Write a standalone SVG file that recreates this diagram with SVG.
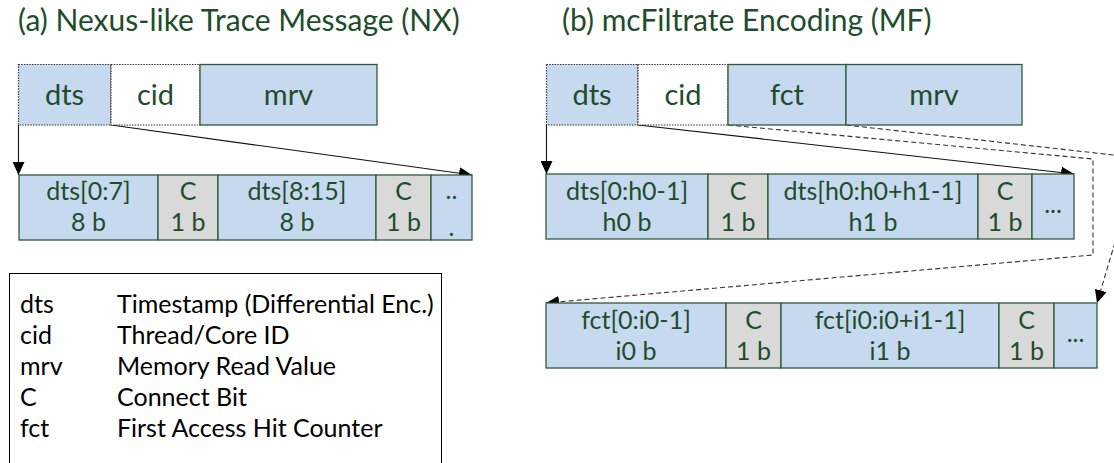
<svg xmlns="http://www.w3.org/2000/svg" width="1114" height="463" viewBox="0 0 1114 463">
<style>
  text { font-family: Lato, "Liberation Sans", sans-serif; fill: #1E4D2B; }
  .title { font-size: 30px; }
  .big { font-size: 29px; text-anchor: middle; }
  .lbl { font-size: 25px; text-anchor: middle; }
  .leg { font-size: 25px; fill: #000; }
  .b { fill: #C6D9EF; stroke: #2E5B3C; stroke-width: 1.3; }
  .g { fill: #D9D9D9; stroke: #2E5B3C; stroke-width: 1.3; }
  .dotb { fill: #C6D9EF; stroke: #333; stroke-width: 1.2; stroke-dasharray: 1.5 1.2; }
  .dotw { fill: #FFFFFF; stroke: #333; stroke-width: 1.2; stroke-dasharray: 1.5 1.2; }
  .conn { fill: none; stroke: #111; stroke-width: 1.1; }
  .dash { fill: none; stroke: #333; stroke-width: 1.1; stroke-dasharray: 5 3; }
</style>
<defs>
  <marker id="ah" markerUnits="userSpaceOnUse" markerWidth="14" markerHeight="12" refX="13" refY="6" orient="auto">
    <path d="M0,0 L13,6 L0,12 Z" fill="#000"/>
  </marker>
</defs>

<text class="title" x="18" y="31">(a) Nexus-like Trace Message (NX)</text>
<text class="title" x="562" y="31">(b) mcFiltrate Encoding (MF)</text>

<g id="connectors">
  <line class="conn" x1="18.5" y1="125" x2="18.5" y2="175" marker-end="url(#ah)"/>
  <line class="conn" x1="111" y1="125" x2="472" y2="175" marker-end="url(#ah)"/>
  <line class="conn" x1="546.5" y1="125" x2="546.5" y2="174" marker-end="url(#ah)"/>
  <line class="conn" x1="638" y1="125" x2="1074" y2="174" marker-end="url(#ah)"/>
  <polyline class="dash" points="728,125 1093,159 1093,255 546,303" marker-end="url(#ah)"/>
  <polyline class="dash" points="846,125 1140,158 1097,303" marker-end="url(#ah)"/>
</g>

<g id="nx-header">
  <rect class="dotb" x="18.5" y="64.5" width="92.5" height="60.5"/>
  <rect class="dotw" x="111" y="64.5" width="89" height="60.5"/>
  <rect class="b" x="200" y="64.5" width="177" height="60.5"/>
  <text class="big" x="64.5" y="105">dts</text>
  <text class="big" x="155.5" y="105">cid</text>
  <text class="big" x="288.5" y="105">mrv</text>
</g>

<g id="nx-dts">
  <rect class="b" x="19" y="175" width="139" height="65"/>
  <rect class="g" x="158" y="175" width="60" height="65"/>
  <rect class="b" x="218" y="175" width="158" height="65"/>
  <rect class="g" x="376" y="175" width="55" height="65"/>
  <rect class="b" x="431" y="175" width="41" height="65"/>
  <text class="lbl" x="88.5" y="200">dts[0:7]</text>
  <text class="lbl" x="88.5" y="231">8 b</text>
  <text class="lbl" x="188" y="200">C</text>
  <text class="lbl" x="188" y="231">1 b</text>
  <text class="lbl" x="297" y="200">dts[8:15]</text>
  <text class="lbl" x="297" y="231">8 b</text>
  <text class="lbl" x="403.5" y="200">C</text>
  <text class="lbl" x="403.5" y="231">1 b</text>
  <text class="lbl" x="451.5" y="199">..</text>
  <text class="lbl" x="451.5" y="236">.</text>
</g>

<g id="legend">
  <rect x="9.5" y="273.5" width="432" height="200" fill="#fff" stroke="#000" stroke-width="1"/>
  <text class="leg" x="20" y="313">dts</text>
  <text class="leg" x="117" y="313">Timestamp (Differential Enc.)</text>
  <text class="leg" x="20" y="344">cid</text>
  <text class="leg" x="117" y="344">Thread/Core ID</text>
  <text class="leg" x="20" y="375">mrv</text>
  <text class="leg" x="117" y="375">Memory Read Value</text>
  <text class="leg" x="20" y="406">C</text>
  <text class="leg" x="117" y="406">Connect Bit</text>
  <text class="leg" x="20" y="437">fct</text>
  <text class="leg" x="117" y="437">First Access Hit Counter</text>
</g>

<g id="mf-header">
  <rect class="dotb" x="546.5" y="64.5" width="91.5" height="60.5"/>
  <rect class="dotw" x="638" y="64.5" width="90" height="60.5"/>
  <rect class="b" x="728" y="64.5" width="118" height="60.5"/>
  <rect class="b" x="846" y="64.5" width="176" height="60.5"/>
  <text class="big" x="592" y="105">dts</text>
  <text class="big" x="683" y="105">cid</text>
  <text class="big" x="787" y="105">fct</text>
  <text class="big" x="934" y="105">mrv</text>
</g>

<g id="mf-dts">
  <rect class="b" x="546" y="174" width="162" height="65"/>
  <rect class="g" x="708" y="174" width="60" height="65"/>
  <rect class="b" x="768" y="174" width="210" height="65"/>
  <rect class="g" x="978" y="174" width="54" height="65"/>
  <rect class="b" x="1032" y="174" width="42" height="65"/>
  <text class="lbl" x="627" y="200">dts[0:h0-1]</text>
  <text class="lbl" x="627" y="231">h0 b</text>
  <text class="lbl" x="738" y="200">C</text>
  <text class="lbl" x="738" y="231">1 b</text>
  <text class="lbl" x="873" y="200">dts[h0:h0+h1-1]</text>
  <text class="lbl" x="873" y="231">h1 b</text>
  <text class="lbl" x="1005" y="200">C</text>
  <text class="lbl" x="1005" y="231">1 b</text>
  <text class="lbl" x="1053" y="213">...</text>
</g>

<g id="mf-fct">
  <rect class="b" x="546" y="303" width="180" height="65"/>
  <rect class="g" x="726" y="303" width="55" height="65"/>
  <rect class="b" x="781" y="303" width="218" height="65"/>
  <rect class="g" x="999" y="303" width="55" height="65"/>
  <rect class="b" x="1054" y="303" width="43" height="65"/>
  <text class="lbl" x="636" y="329">fct[0:i0-1]</text>
  <text class="lbl" x="636" y="360">i0 b</text>
  <text class="lbl" x="753.5" y="329">C</text>
  <text class="lbl" x="753.5" y="360">1 b</text>
  <text class="lbl" x="890" y="329">fct[i0:i0+i1-1]</text>
  <text class="lbl" x="890" y="360">i1 b</text>
  <text class="lbl" x="1026.5" y="329">C</text>
  <text class="lbl" x="1026.5" y="360">1 b</text>
  <text class="lbl" x="1075.5" y="342">...</text>
</g>
</svg>
